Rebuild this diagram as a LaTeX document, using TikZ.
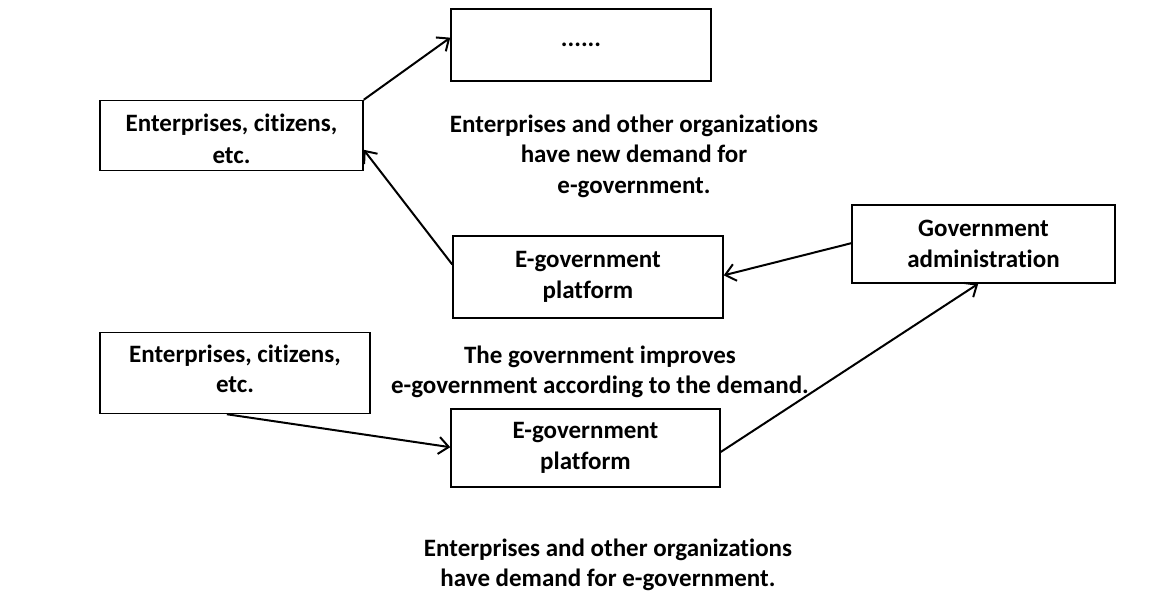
\documentclass[tikz,border=0pt]{standalone}
\usepackage{fontspec}
\setmainfont{Carlito}[Ligatures={NoCommon}]
\usetikzlibrary{arrows.meta,calc}
\newcommand{\lowstack}[3]{\raisebox{-#1}[0pt][0pt]{\fontsize{25}{#2}\selectfont\begin{tabular}{@{}c@{}}#3\end{tabular}}}
\begin{document}
\begin{tikzpicture}[x=1pt,y=-1pt,
  txt/.style={font=\fontsize{25}{30.5}\selectfont\bfseries, align=center, inner sep=0pt},
  box/.style={draw, line width=1.5pt, rectangle, inner sep=0pt, txt},
  conn/.style={line width=2pt, -{Straight Barb[length=10pt,width=17pt,line width=2pt]}}]
\useasboundingbox (0,0) rectangle (1169,593);
% boxes
\node[box, minimum width=260pt, minimum height=72pt] (dots) at (581,45) {......};
\node[box, minimum width=263pt, minimum height=70pt] (ent1) at (231.5,135.5) {\lowstack{11.75pt}{32}{Enterprises, citizens,\\etc.}};
\node[box, minimum width=270pt, minimum height=82pt] (plat1) at (588,277) {E-government\\platform};
\node[box, minimum width=263pt, minimum height=78pt] (gov) at (983.5,244) {Government\\administration};
\node[box, minimum width=270pt, minimum height=81pt] (ent2) at (235,373) {\lowstack{4.75pt}{30}{Enterprises, citizens,\\etc.}};
\node[box, minimum width=269pt, minimum height=78pt] (plat2) at (585.5,448) {E-government\\platform};
% texts
\node[txt] (t1) at (634,156) {Enterprises and other organizations\\have new demand for\\e-government.};
\node[txt] (t2) at (600,372) {The government improves\\e-government according to the demand.};
\node[txt] (t3) at (608,565) {Enterprises and other organizations\\have demand for e-government.};
% connectors
\draw[conn] (ent1.north east) -- ($(dots.north west)!0.4!(dots.south west)$);
\draw[conn] ($(plat1.north west)!0.35!(plat1.south west)$) -- ($(ent1.north east)!0.7!(ent1.south east)$);
\draw[conn] ($(gov.north west)!0.49!(gov.south west)$) -- ($(plat1.north east)!0.48!(plat1.south east)$);
\draw[conn] ($(ent2.south west)!0.47!(ent2.south east)$) -- ($(plat2.north west)!0.49!(plat2.south west)$);
\draw[conn] ($(plat2.north east)!0.55!(plat2.south east)$) -- ($(gov.south west)!0.48!(gov.south east)$);
\end{tikzpicture}
\end{document}
